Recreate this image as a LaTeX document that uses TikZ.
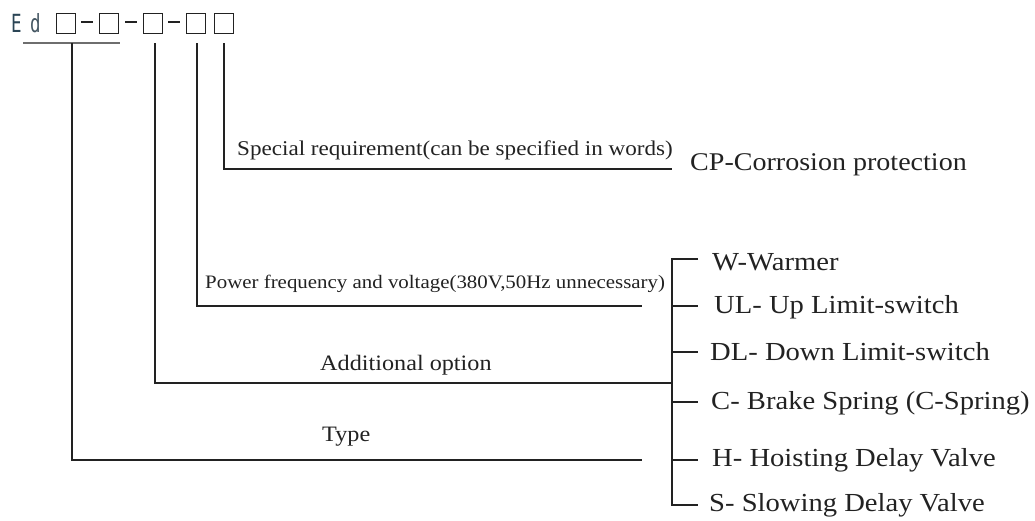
\documentclass[tikz,border=0pt]{standalone}
\usepackage{fontspec}
\setmainfont{Liberation Serif}
\newfontfamily\hdrfont{DejaVu Sans Mono}
\usepackage{graphicx}
\definecolor{ink}{HTML}{222222}
\definecolor{hdr}{HTML}{2B4555}
\definecolor{uline}{HTML}{6E6E6E}
\newcommand{\hs}[1]{\scalebox{1.1}[1]{#1}}
\newcommand{\hc}[1]{\scalebox{0.7}[1]{#1}}
\begin{document}
\begin{tikzpicture}[x=1pt,y=-1pt,
  conn/.style={draw=ink,line width=1.5pt},
  sbox/.style={draw=ink,line width=1.4pt,minimum width=19pt,minimum height=20pt,inner sep=0pt,anchor=north west},
  lbl/.style={anchor=west,inner sep=0pt,text=ink},
  item/.style={lbl,font=\fontsize{26}{30}\selectfont},
  hl/.style={anchor=west,inner sep=0pt,text=hdr,font=\hdrfont\fontsize{25}{29}\selectfont}]
\useasboundingbox (0,0) rectangle (1035,520);
% header
\node[hl] (e) at (11,23) {\hc{E}};
\node[hl,text=hdr!70!gray] (d) at (30,23) {\hc{d}};
\node[sbox] (b1) at (55.5,12.5) {};
\node[sbox] (b2) at (98.5,12.5) {};
\node[sbox] (b3) at (142.5,12.5) {};
\node[sbox] (b4) at (185.5,12.5) {};
\node[sbox] (b5) at (213.5,12.5) {};
\coordinate (d1a) at (81,22); \coordinate (d1b) at (93,22);
\coordinate (d2a) at (125,22); \coordinate (d2b) at (137,22);
\coordinate (d3a) at (168,22); \coordinate (d3b) at (180,22);
\draw[ink,line width=1.4pt] (d1a) -- (d1b) (d2a) -- (d2b) (d3a) -- (d3b);
\coordinate (ula) at (23,43); \coordinate (ulb) at (120,43);
\draw[uline,line width=2pt] (ula) -- (ulb);
% connector points
\coordinate (t0) at (72,43);  \coordinate (t1) at (72,460);  \coordinate (t2) at (642,460);
\coordinate (a0) at (155,43); \coordinate (a1) at (155,383); \coordinate (a2) at (672,383);
\coordinate (p0) at (197,43); \coordinate (p1) at (197,306); \coordinate (p2) at (642,306);
\coordinate (s0) at (224,43); \coordinate (s1) at (224,169); \coordinate (s2) at (672,169);
\draw[conn] (t0) -- (t1) -- (t2);
\draw[conn] (a0) -- (a1) -- (a2);
\draw[conn] (p0) -- (p1) -- (p2);
\draw[conn] (s0) -- (s1) -- (s2);
% bracket
\coordinate (k1) at (672,259); \coordinate (k2) at (672,306); \coordinate (k3) at (672,352);
\coordinate (k4) at (672,402); \coordinate (k5) at (672,460); \coordinate (k6) at (672,505);
\coordinate (e1) at (698,259); \coordinate (e2) at (698,306); \coordinate (e3) at (698,352);
\coordinate (e4) at (698,402); \coordinate (e5) at (698,460); \coordinate (e6) at (698,505);
\draw[conn] (e1) -- (k1) -- (k6) -- (e6);
\draw[conn] (k2) -- (e2) (k3) -- (e3) (k4) -- (e4) (k5) -- (e5);
% labels
\node[lbl,font=\fontsize{21}{25}\selectfont] (ls) at (237,150) {\hs{Special requirement(can be specified in words)}};
\node[lbl,font=\fontsize{25.5}{30}\selectfont] (lcp) at (690,165) {\hs{CP-Corrosion protection}};
\node[lbl,font=\fontsize{19}{23}\selectfont] (lp) at (205,284) {\hs{Power frequency and voltage(380V,50Hz unnecessary)}};
\node[lbl,font=\fontsize{22}{26}\selectfont] (la) at (320,365) {\hs{Additional option}};
\node[lbl,font=\fontsize{22}{26}\selectfont] (lt) at (322,437) {\hs{Type}};
\node[item] (i1) at (712,262) {\hs{W-Warmer}};
\node[item] (i2) at (714,307) {\hs{UL- Up Limit-switch}};
\node[item] (i3) at (710,352) {\hs{DL- Down Limit-switch}};
\node[item] (i4) at (711,403) {\hs{C- Brake Spring (C-Spring)}};
\node[item] (i5) at (712,460) {\hs{H- Hoisting Delay Valve}};
\node[item] (i6) at (709,505) {\hs{S- Slowing Delay Valve}};
\end{tikzpicture}
\end{document}
